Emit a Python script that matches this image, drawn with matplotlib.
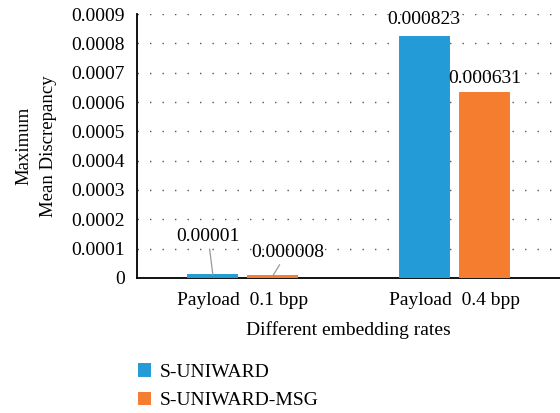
import matplotlib.pyplot as plt
import numpy as np

# Maximum mean discrepancy for two embedding rates
categories = ['Payload  0.1 bpp', 'Payload  0.4 bpp']
series_names = ['S-UNIWARD', 'S-UNIWARD-MSG']
uniward = [0.00001, 0.000823]
uniward_msg = [0.000008, 0.000631]
uniward_labels = ['0.00001', '0.000823']
msg_labels = ['0.000008', '0.000631']

plt.rcParams['font.family'] = ['Liberation Serif', 'DejaVu Serif']
plt.rcParams['font.size'] = 14

blue = '#229bd6'
orange = '#f47d30'

fig = plt.figure(figsize=(5.6, 4.13), dpi=100)
ax = fig.add_axes([0.245, 0.327, 0.755, 0.639])

x = np.arange(len(categories))
w = 0.232
off = 0.142
b1 = ax.bar(x - off, uniward, w, color=blue, edgecolor=blue, linewidth=1.4,
            label=series_names[0], zorder=3)
b2 = ax.bar(x + off, uniward_msg, w, color=orange, edgecolor=orange, linewidth=1.4,
            label=series_names[1], zorder=3)

# tiny bars get labels pulled up with leader lines
ax.annotate(uniward_labels[0], xy=(x[0] - off, uniward[0]),
            xytext=(x[0] - 0.165, 0.000142), ha='center', va='center',
            arrowprops=dict(arrowstyle='-', color='#999999', lw=0.9, shrinkA=1, shrinkB=0))
ax.annotate(msg_labels[0], xy=(x[0] + off, uniward_msg[0]),
            xytext=(x[0] + 0.21, 0.000088), ha='center', va='center',
            arrowprops=dict(arrowstyle='-', color='#999999', lw=0.9, shrinkA=1, shrinkB=0))
ax.text(x[1] - off, uniward[1] + 0.00003, uniward_labels[1], ha='center', va='bottom')
ax.text(x[1] + off, uniward_msg[1] + 0.00002, msg_labels[1], ha='center', va='bottom')

ax.set_xlim(-0.5, 1.5)
ax.set_ylim(0, 0.0009)
ax.set_yticks(np.arange(0, 0.00091, 0.0001))
ax.set_yticklabels(['0'] + ['{:.4f}'.format(v) for v in np.arange(0.0001, 0.00091, 0.0001)])
ax.set_xticks(x)
ax.set_xticklabels(categories)
ax.tick_params(axis='y', length=0, pad=9)
ax.tick_params(axis='x', length=0, pad=10)
ax.yaxis.grid(True, linestyle=(0, (1, 8)), color='#555555', linewidth=1.0)
ax.set_axisbelow(True)
for s in ['top', 'right']:
    ax.spines[s].set_visible(False)
for s in ['left', 'bottom']:
    ax.spines[s].set_linewidth(1.3)

ax.set_xlabel('Different embedding rates', labelpad=9)
ax.set_ylabel('Maximum\nMean Discrepancy', labelpad=10, fontsize=13.5, linespacing=1.6)

fig.legend(handles=[b1, b2], loc='upper left', bbox_to_anchor=(0.235, 0.138),
           frameon=False, handlelength=0.55, handleheight=0.55, handletextpad=0.5,
           labelspacing=0.6, borderaxespad=0)

fig.savefig('out.png', dpi=100)
